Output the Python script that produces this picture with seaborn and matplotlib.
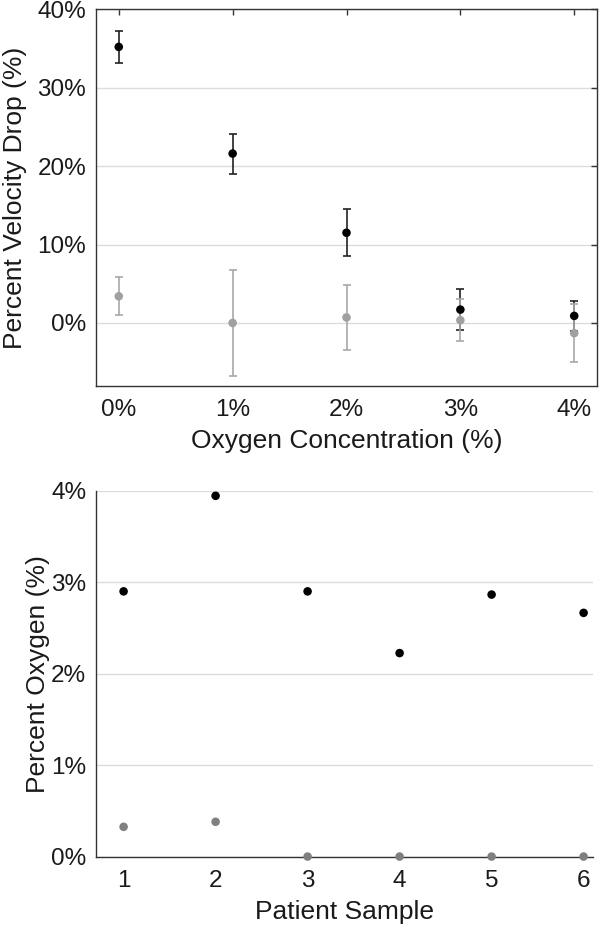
import numpy as np
import pandas as pd
import matplotlib
matplotlib.use("Agg")
import matplotlib.pyplot as plt
import seaborn as sns

# top panel: velocity drop vs oxygen concentration
oxygen = [0, 1, 2, 3, 4]
oxygen_labels = ["0%", "1%", "2%", "3%", "4%"]
drop_black = [35.2, 21.6, 11.5, 1.7, 0.9]
err_black = [2.0, 2.55, 3.0, 2.65, 1.9]
drop_gray = [3.4, 0.0, 0.7, 0.35, -1.3]
err_gray = [2.4, 6.75, 4.2, 2.7, 3.7]

# bottom panel: percent oxygen per patient sample
patients = [1, 2, 3, 4, 5, 6]
o2_black = [2.90, 3.945, 2.90, 2.225, 2.865, 2.665]
o2_gray = [0.325, 0.38, 0.0, 0.0, 0.0, 0.0]

sns.set_theme(style="white")
plt.rcParams['font.family'] = ['Liberation Sans', 'DejaVu Sans']

fig = plt.figure(figsize=(6, 9.26), dpi=100)
ax1 = fig.add_axes([0.16, 0.5835, 0.835, 0.4065])
ax2 = fig.add_axes([0.16, 0.075, 0.828, 0.395])

text_c = "#1a1a1a"
grid_c = "#dcdcdc"
tick_fs = 17.5
label_fs = 19
dot = 38

# ---- top plot
ax1.errorbar(oxygen, drop_black, yerr=err_black, fmt="none", ecolor="#222222",
             elinewidth=1.2, capsize=2.6, capthick=1.2, zorder=3)
ax1.errorbar(oxygen, drop_gray, yerr=err_gray, fmt="none", ecolor="#a8a8a8",
             elinewidth=1.2, capsize=2.6, capthick=1.2, zorder=3)
df1 = pd.DataFrame({"x": oxygen, "black": drop_black, "gray": drop_gray})
sns.scatterplot(data=df1, x="x", y="black", ax=ax1, color="black", s=dot,
                edgecolor="none", zorder=4)
sns.scatterplot(data=df1, x="x", y="gray", ax=ax1, color="#a0a0a0", s=dot,
                edgecolor="none", zorder=5)
ax1.set_xlim(-0.2, 4.2)
ax1.set_ylim(-8, 40)
ax1.set_xticks(oxygen)
ax1.set_xticklabels(oxygen_labels)
ax1.set_yticks([0, 10, 20, 30, 40])
ax1.set_yticklabels(["0%", "10%", "20%", "30%", "40%"])
ax1.yaxis.grid(True, color=grid_c, lw=1)
ax1.set_axisbelow(True)
ax1.tick_params(direction="in", length=4, width=1, color="#333333",
                top=True, right=True, labelsize=tick_fs, labelcolor=text_c)
ax1.tick_params(axis="x", pad=9.5)
ax1.tick_params(axis="y", pad=7)
for s in ax1.spines.values():
    s.set_color("#333333")
    s.set_linewidth(1)
ax1.set_xlabel("Oxygen Concentration (%)", fontsize=label_fs, color=text_c, labelpad=6)
ax1.set_ylabel("Percent Velocity Drop (%)", fontsize=label_fs, color=text_c)
ax1.yaxis.set_label_coords(-0.138, 0.5)

# ---- bottom plot
df2 = pd.DataFrame({"patient": patients, "black": o2_black, "gray": o2_gray})
sns.scatterplot(data=df2, x="patient", y="black", ax=ax2, color="black", s=dot,
                edgecolor="none", zorder=4, clip_on=False)
sns.scatterplot(data=df2, x="patient", y="gray", ax=ax2, color="#808080", s=dot,
                edgecolor="none", zorder=5, clip_on=False)
ax2.set_xlim(0.7, 6.1)
ax2.set_ylim(0, 4)
ax2.set_xticks(patients)
ax2.set_yticks([0, 1, 2, 3, 4])
ax2.set_yticklabels(["0%", "1%", "2%", "3%", "4%"])
ax2.yaxis.grid(True, color=grid_c, lw=1)
ax2.set_axisbelow(True)
ax2.tick_params(direction="in", length=4, width=1, color="#333333",
                labelsize=tick_fs, labelcolor=text_c)
ax2.tick_params(axis="x", pad=9.5)
ax2.tick_params(axis="y", pad=7)
ax2.spines["top"].set_visible(False)
ax2.spines["right"].set_visible(False)
for s in ["left", "bottom"]:
    ax2.spines[s].set_color("#333333")
    ax2.spines[s].set_linewidth(1)
ax2.set_xlabel("Patient Sample", fontsize=label_fs, color=text_c, labelpad=6)
ax2.set_ylabel("Percent Oxygen (%)", fontsize=label_fs, color=text_c)
ax2.yaxis.set_label_coords(-0.092, 0.5)

fig.savefig("out.png", dpi=100)
